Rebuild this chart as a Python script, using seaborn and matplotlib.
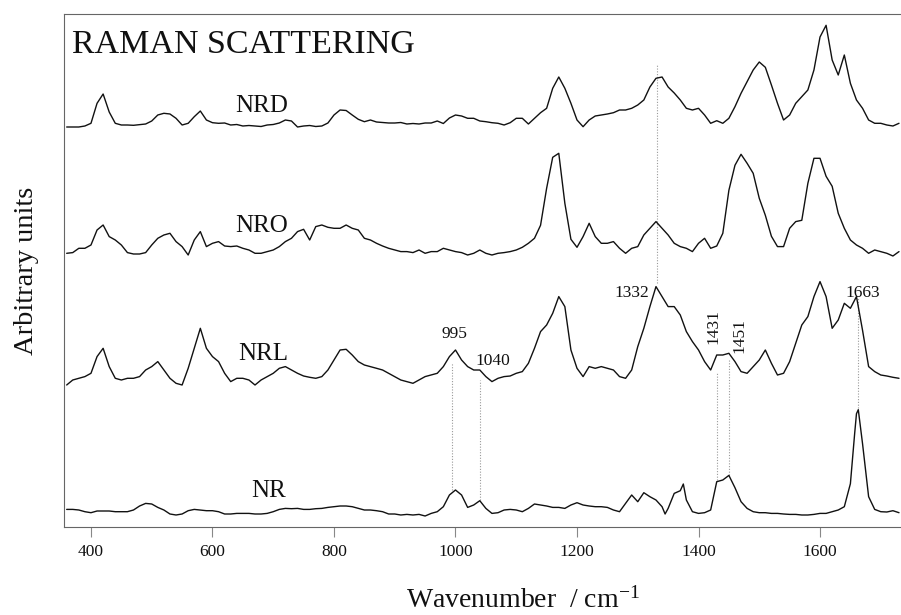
import numpy as np
import pandas as pd
import matplotlib
matplotlib.use("Agg")
import matplotlib.pyplot as plt
import seaborn as sns

# ---------------- data ----------------
wavenumber = list(range(360, 1740, 10))

nrd = [-1, -1, -1, 0, 2.7, 22.7, 32, 14, 2.7, 1, 1, 0.7, 1.3, 2, 5, 11, 12.7, 12, 7.7, 1,
       2.7, 9.3, 15, 6, 3.3, 2.7, 3, 1, 1.5, 0, 0.5, 0, -0.5, 1, 1.5, 3, 6, 5, -1, 0,
       0.5, -0.5, 0, 3, 11, 16, 15.5, 11, 6.7, 4.3, 6, 4, 3.5, 3, 3, 3.5, 2, 2.5, 2, 3,
       3, 5, 2.5, 8, 11, 10, 7.7, 7.7,
       5, 4.3, 3.3, 2.7, 1, 3.3, 7.7, 7.7, 2, 7.7, 13.3, 17.7, 37.7, 49, 37.7, 22.7, 6, -0.7,
       6, 10, 11, 12, 13.3, 16, 16, 17.7, 21, 26, 39, 47.7, 49, 39, 33, 26, 17.7, 16,
       17.7, 11, 2.7, 5.3, 2.7, 7.7, 19.3, 32.7, 44.3, 56, 64, 58.7, 41, 22.7, 6, 11,
       22.7, 29.3, 36, 56, 89, 100.7, 66, 51, 71, 42.7, 26, 17.7, 6, 2.7, 2.7, 1, 0, 2.7]

nro = [0, 0.7, 5, 5, 8.3, 23.3, 28.3, 16.7, 13.3, 8.3, 0.7, -0.7, -0.7, 0.7, 8.3, 15, 18.3,
       20, 11.7, 6.7, -1.7, 13.3, 21.7, 6.7, 10, 11.7, 7.3, 6.7, 7.3, 5, 3.3, 0, 0, 1.7,
       3.3, 6.7, 11.7, 15, 21.7, 24, 13.3, 26.7, 28.3, 26, 25, 25, 28.3, 25, 23.3, 15, 13.3,
       10, 7.3, 5, 3.3, 1.7, 1.7, 0.7, 3.3, 0, 1.7, 1.7, 5, 3.3, 1.7, 0.7, -1.7, 0,
       3.3, 0, -1.7, 0, 0.7, 1.7, 3.3, 6, 10, 15, 28, 65, 96, 100, 50, 14, 6, 16.7, 30,
       16.7, 10, 10, 11.7, 5, 0, 5, 6.7, 18.3, 25, 31.7, 25, 18.3, 10, 6.7, 5, 1.7, 10, 15,
       5, 7.3, 20, 63, 88, 99, 90, 80, 55, 38, 17, 6.7, 6.7, 25, 31.7, 33, 70, 95, 95,
       77, 67, 40, 25, 13.3, 8.3, 5, 0, 3.3, 1.7, 0, -2.7, 1.7]

nrl = [-1.7, 3.3, 5, 6.7, 10, 26.7, 35, 16.7, 5, 3.3, 5, 5, 6.7, 13.3, 16.7, 21.7, 13.3, 5,
       0, -1.7, 15, 35, 55, 35, 26.7, 21.7, 10, 1.7, 5, 5, 3.3, -1.7, 3.3, 6.7, 10, 15, 16.7,
       13.3, 10, 7.3, 6, 5, 6.7, 13.3, 23.3, 33.3, 34, 28.3, 21.7, 18.3, 16.7, 15, 13.3, 10,
       6.7, 3.3, 1.7, 0, 3.3, 6.7, 8.3, 10, 16.7, 26.7, 33.3, 23.3, 16.7, 13.3,
       13.3, 6.7, 1.7, 5, 6.7, 7.3, 10, 11.7, 20, 35, 51.7, 58.3, 70, 86.7, 76.7, 33.3, 15,
       6.7, 16.7, 15, 16.7, 15, 13.3, 6.7, 5, 13.3, 36.7, 55, 76.7, 96.7, 86.7, 76.7, 76.7,
       68.3, 51.7, 41.7, 33.3, 21.7, 13.3, 28.3, 28.3, 30, 21.7, 11.7, 10, 16.7, 23.3, 33.3,
       20, 8.3, 10, 21.7, 40, 58.3, 66.7, 86.7, 101.7, 86.7, 55, 63.3, 80, 75, 86.7, 53,
       16.7, 11.7, 8.3, 7.3, 6, 5]

nr_wavenumber = sorted(wavenumber + [1345, 1375, 1657, 1663])
nr = [2.3, 2.3, 1.7, 0, -1, 0.7, 0.7, 0.7, 0, 0, 0, 1.7, 5.7, 8.3, 7.7, 4.3, 1.7, -2.3,
      -3.3, -2.3, 1, 2.3, 1.7, 1, 1, 0, -2.3, -2.3, -1.7, -1.7, -1.7, -2.3, -2.3, -1.7, 0,
      2.3, 3.3, 3, 3.3, 2.3, 2.3, 3, 3.3, 4.3, 5, 5.7, 5.7, 5, 3.3, 1.7, 1.7, 1, 0, -2.3,
      -2.3, -3.3, -2.7, -3.3, -2.7, -4.3, -1.7, 0, 5, 16.7, 21.7, 16.7, 4.3, 6.7,
      11, 3.3, -1.7, -1, 1.7, 2.3, 1.7, 0, 3.3, 7.7, 6.7, 5.7, 4.3, 4.3, 3.3, 6.7, 9, 6.7,
      5.7, 5, 5, 4.3, 1.7, 0, 8.3, 16.7, 10, 19, 15, 11.7, 5, -2.3, 3.3, 18.3, 21, 27.7,
      11.7, 0, -1.7, -1, 1.7, 30, 31.7, 36.3, 24, 10, 3.3, 0, -1, -1, -1.7, -1.7, -2.3,
      -2.7, -2.7, -3.3, -3.3, -2.7, -1.7, -1.7, 0, 1.7, 5, 28, 78, 98, 102, 68, 15, 2.3,
      0, -0.3, 1, -1]

series_names = ["NRD", "NRO", "NRL", "NR"]
peak_labels = [995, 1040, 1332, 1431, 1451, 1663]

assert len(nrd) == len(wavenumber) and len(nro) == len(wavenumber)
assert len(nrl) == len(wavenumber) and len(nr) == len(nr_wavenumber)

# ---------------- layout (stacking offsets / annotation placement) ----------------
offsets = {"NRD": 401, "NRO": 273.7, "NRL": 143.7, "NR": 15.3}
name_pos = {"NRD": (681, 415), "NRO": (681, 295), "NRL": (683, 167), "NR": (693, 30)}
guide_span = {995: (37, 164), 1040: (27, 147), 1332: (244, 462),
              1431: (47, 155), 1451: (52, 167), 1663: (119, 229)}
label_pos = {995: (999, 189, 0), 1040: (1062, 162, 0), 1332: (1291, 230, 0),
             1431: (1425, 200, 90), 1451: (1468, 191, 90), 1663: (1671, 230, 0)}

frames = []
for name, wn, vals in [("NRD", wavenumber, nrd), ("NRO", wavenumber, nro),
                       ("NRL", wavenumber, nrl), ("NR", nr_wavenumber, nr)]:
    frames.append(pd.DataFrame({"wavenumber": wn,
                                "intensity": np.asarray(vals, float) + offsets[name],
                                "sample": name}))
df = pd.concat(frames, ignore_index=True)

# ---------------- plotting ----------------
sns.set_theme(style="white")
plt.rcParams["font.family"] = ["Liberation Serif", "DejaVu Serif"]
plt.rcParams["mathtext.fontset"] = "stix"

fig = plt.figure(figsize=(9.01, 6.15), dpi=100)
ax = fig.add_axes([64 / 901, 88 / 615, 837 / 901, 513 / 615])

sns.lineplot(data=df, x="wavenumber", y="intensity", units="sample", estimator=None,
             color="#111111", linewidth=1.0, sort=False, ax=ax, legend=False)

for p in peak_labels:
    lo, hi = guide_span[p]
    ax.vlines(p, lo, hi, colors="#9a9a9a", linestyles=(0, (1, 1.5)), linewidth=0.8, zorder=1)
    tx, ty, rot = label_pos[p]
    if rot:
        ax.text(tx, ty, str(p), rotation=90, ha="center", va="center", fontsize=12.5, color="#111111")
    else:
        ax.text(tx, ty, str(p), ha="center", va="baseline", fontsize=12.5, color="#111111")

for name in series_names:
    x, y = name_pos[name]
    ax.text(x, y, name, ha="center", va="baseline", fontsize=18, color="#111111")

ax.text(368.5, 473.7, "RAMAN SCATTERING", ha="left", va="baseline", fontsize=24.5, color="#111111")

ax.set_xlim(355.6, 1733.3)
ax.set_ylim(0, 513)
ax.set_xticks([400, 600, 800, 1000, 1200, 1400, 1600])
ax.set_yticks([])
ax.tick_params(axis="x", bottom=True, direction="out", length=7, width=0.8,
               color="#888888", labelsize=12.5, pad=5, labelcolor="#111111")

for side in ["left", "top", "bottom"]:
    ax.spines[side].set_color("#666666")
    ax.spines[side].set_linewidth(0.8)
ax.spines["right"].set_visible(False)

ax.set_xlabel(r"Wavenumber  / cm$^{\mathregular{-1}}$", fontsize=20, color="#111111")
ax.xaxis.label.set_va("baseline")
ax.xaxis.set_label_coords((523 - 64) / 837, (527 - 607.5) / 513)
ax.set_ylabel("Arbitrary units", fontsize=20.5, color="#111111")
ax.yaxis.label.set_va("baseline")
ax.yaxis.set_label_coords((33 - 64) / 837, 0.499)

fig.savefig("out.png", dpi=100)
